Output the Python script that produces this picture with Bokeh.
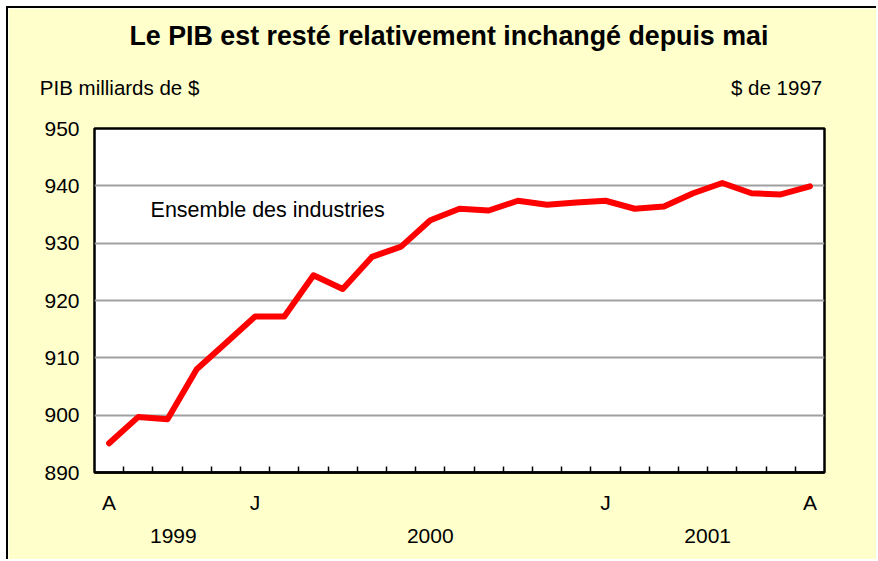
from bokeh.plotting import figure
from bokeh.models import Range1d, FixedTicker, LinearAxis, Label
from bokeh.embed import file_html
from bokeh.resources import INLINE

# ---- data ----
periods = ["1999-08", "1999-09", "1999-10", "1999-11", "1999-12",
           "2000-01", "2000-02", "2000-03", "2000-04", "2000-05", "2000-06",
           "2000-07", "2000-08", "2000-09", "2000-10", "2000-11", "2000-12",
           "2001-01", "2001-02", "2001-03", "2001-04", "2001-05", "2001-06",
           "2001-07", "2001-08"]
gdp = [895.1, 899.7, 899.3, 908.0, 912.6, 917.2, 917.2, 924.4, 922.0,
       927.6, 929.4, 934.0, 936.0, 935.7, 937.4, 936.7, 937.1, 937.4,
       936.0, 936.4, 938.7, 940.5, 938.7, 938.5, 939.9]
month_ticks = [0, 5, 17, 24]
month_labels = ["A", "J", "J", "A"]
year_ticks = [2.2, 11.0, 20.5]
year_labels = ["1999", "2000", "2001"]
y_ticks = [890, 900, 910, 920, 930, 940, 950]
grid_ticks = [900, 910, 920, 930, 940]

title_text = "Le PIB est resté relativement inchangé depuis mai"
header_ticks = [0.36, 22.86]
header_labels = ["PIB milliards de $", "$ de 1997"]
series_name = "Ensemble des industries"

FONT = "Liberation Sans"
x = list(range(len(gdp)))

p = figure(width=870, height=553, output_backend="svg", toolbar_location=None,
           x_range=Range1d(-0.5, len(gdp) - 0.5), y_range=Range1d(890, 950),
           min_border_left=86, min_border_right=54, min_border_top=120,
           min_border_bottom=89,
           styles={"border-left": "2px solid black", "border-top": "2px solid black",
                   "margin-left": "6px", "margin-top": "6px"})
p.background_fill_color = "white"
p.border_fill_color = "#FFFFCC"
p.outline_line_color = "black"
p.outline_line_width = 2.5

# default axes (grab before adding extra ones)
xa = p.below[0]
yax = p.left[0]

# title
p.title.text = title_text
p.title.text_font = FONT
p.title.text_font_size = "26.8px"
p.title.text_font_style = "bold"
p.title.text_color = "black"
p.title.align = "left"
p.title.offset = 35
p.title.standoff = 10

# header line (unit texts) as a label-only axis above the frame
ha = LinearAxis(ticker=FixedTicker(ticks=header_ticks),
                major_label_overrides={t: l for t, l in zip(header_ticks, header_labels)},
                major_tick_in=0, major_tick_out=0, minor_tick_in=0, minor_tick_out=0,
                axis_line_color=None, major_label_standoff=30,
                major_label_text_font=FONT, major_label_text_font_size="20.5px",
                major_label_text_color="black",
                axis_label=" ", axis_label_standoff=3,
                axis_label_text_font_size="10px")
p.add_layout(ha, "above")

# bottom axis: month labels + minor ticks at category boundaries
xa.ticker = FixedTicker(ticks=month_ticks,
                        minor_ticks=[k - 0.5 for k in range(1, len(gdp))])
xa.major_label_overrides = {t: l for t, l in zip(month_ticks, month_labels)}
xa.major_tick_in = 0
xa.major_tick_out = 0
xa.minor_tick_in = 6
xa.minor_tick_out = 0
xa.minor_tick_line_color = "black"
xa.minor_tick_line_width = 1.5
xa.axis_line_color = "black"
xa.axis_line_width = 2.5
xa.major_label_standoff = 18
xa.major_label_text_font = FONT
xa.major_label_text_font_size = "21px"
xa.major_label_text_color = "black"

ya = LinearAxis(ticker=FixedTicker(ticks=year_ticks),
                major_label_overrides={t: l for t, l in zip(year_ticks, year_labels)},
                major_tick_in=0, major_tick_out=0, minor_tick_in=0, minor_tick_out=0,
                axis_line_color=None, major_label_standoff=12,
                major_label_text_font=FONT, major_label_text_font_size="21px",
                major_label_text_color="black")
p.add_layout(ya, "below")

yax.ticker = FixedTicker(ticks=y_ticks)
yax.major_tick_in = 0
yax.major_tick_out = 0
yax.minor_tick_in = 0
yax.minor_tick_out = 0
yax.axis_line_color = None
yax.major_label_standoff = 15
yax.major_label_text_font = FONT
yax.major_label_text_font_size = "21px"
yax.major_label_text_color = "black"

p.xgrid.visible = False
p.ygrid.ticker = FixedTicker(ticks=grid_ticks)
p.ygrid.grid_line_color = "#A0A0A0"
p.ygrid.grid_line_width = 2

p.line(x, gdp, line_color="#FF0000", line_width=6, line_join="round", line_cap="round")

p.add_layout(Label(x=1.42, y=935.7, text=series_name,
                   text_font=FONT, text_font_size="21.5px",
                   text_align="left", text_baseline="middle", text_color="black"))

open("out.html", "w").write(file_html(p, INLINE))
